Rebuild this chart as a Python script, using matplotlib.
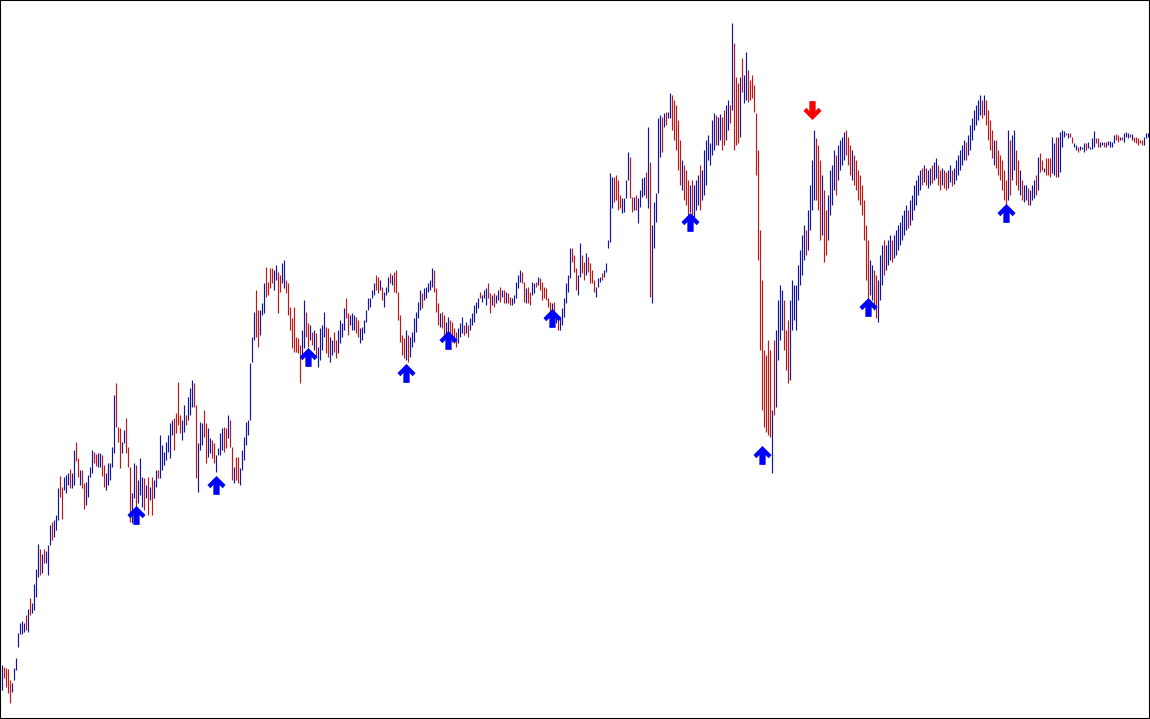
import matplotlib
matplotlib.use("Agg")
import matplotlib.pyplot as plt
import numpy as np
from matplotlib.path import Path

# bar highs / lows (price points), one bar per slot, left to right
highs = [
    55, 53, 52, 51, 40, 37, 52, 62, 87, 97, 99, 97, 105, 111, 122, 117, 136, 151, 176, 171,
    166, 171, 169, 175, 195, 198, 200, 205, 232, 244, 233, 243, 245, 247, 251, 247, 270, 278, 262, 250,
    250, 237, 238, 245, 253, 270, 268, 266, 267, 267,
    265, 255, 247, 257, 257, 273, 325, 337, 293, 292, 278, 290, 302, 273, 253, 227, 257, 255, 240, 262,
    243, 242, 235, 243, 233, 243, 240, 250, 250, 285, 275, 268, 278, 285, 297, 300, 302, 307, 338, 305,
    300, 315, 305, 323, 332,
    340, 337, 315, 277, 298, 297, 310, 297, 292, 282, 280, 277, 265, 272, 287, 292, 293, 292, 305, 300,
    273, 253, 263, 263, 252, 270, 283, 298, 300, 357, 383, 408, 430, 410, 410, 417, 437, 453, 438, 452,
    452, 450, 455, 448, 445, 457, 460, 440, 437, 413,
    402, 413, 383, 382, 375, 390, 420, 408, 397, 395, 388, 390, 387, 373, 392, 395, 408, 393, 392, 383,
    380, 388, 380, 390, 400, 397, 412, 422, 407, 405, 407, 405, 403, 400, 392, 393, 400, 410, 422, 422,
    430, 437, 445, 443, 440,
    433, 428, 433, 443, 447, 445, 448, 450, 428, 405, 385, 382, 390, 385, 383, 388, 402, 408, 418, 430,
    427, 432, 433, 437, 440, 452, 450, 432, 417, 407, 408, 405, 398, 403, 400, 398, 392, 388, 392, 397,
    403, 395, 398, 395, 402, 407, 415, 418, 422, 428,
    425, 430, 432, 437, 427, 425, 427, 425, 430, 433, 430, 430, 428, 427, 423, 422, 425, 438, 445, 450,
    448, 438, 432, 433, 428, 438, 437, 438, 443, 442, 438, 433, 432, 422, 418, 417, 418, 407, 403, 402,
    412, 422, 437, 445, 472, 472, 465,
    452, 445, 477, 465, 458, 467, 463, 457, 450, 440, 433, 442, 443, 447, 450, 457, 480, 547, 543, 543,
    545, 540, 525, 522, 522, 540, 568, 563, 523, 523, 525, 522, 530, 542, 543, 548, 593, 558, 495, 518,
    527, 602, 605, 603, 607, 608, 608, 627,
    625, 620, 615, 600, 580, 560, 555, 550, 540, 535, 540, 535, 540, 545, 555, 550, 570, 580, 585, 577,
    600, 607, 605, 603, 606, 603, 610, 615, 620, 615, 697, 677, 643, 637, 643, 662, 645, 668, 650, 640,
    645, 635, 607, 570, 490, 440, 370, 365, 380, 370, 310, 380, 390, 420, 435, 430, 420, 390, 400, 420,
    440, 435, 435, 455, 470, 485, 495, 490, 510, 535, 560, 590, 582, 575, 560, 545, 530, 510, 525, 550,
    555, 570, 565, 575, 580, 583, 588, 590, 583, 575, 570, 565, 560, 550, 545, 535, 520, 495, 480, 460,
    455, 450, 445, 440, 465, 475, 480, 475, 480, 485, 480, 485, 490, 495, 498, 505, 510, 515, 510, 520,
    525, 535, 540, 545, 550, 552, 555, 552, 550, 552, 555, 558, 562, 555, 550, 552, 550, 548, 550, 555,
    550, 552, 560, 565, 570, 575, 580, 578, 585, 595, 602, 610, 615, 620, 625, 620, 625, 620, 610, 600,
    590, 580, 580, 570, 565, 560, 550, 540, 590, 580, 585, 590, 570, 560, 550, 540, 535, 535, 532, 530,
    535, 540, 545,
    563, 567, 560, 552, 562, 562, 562, 583, 577, 583, 583, 588, 590, 589, 587, 587, 587, 583, 577, 575,
    573, 574, 573, 577, 577, 578, 573, 582, 589, 582, 582, 578, 578, 578, 578, 579, 579, 578, 585, 586,
    585, 583, 583, 587, 588, 587, 586, 586, 583, 583, 582, 580, 580, 583, 587, 587,
]

lows = [
    30, 42, 33, 27, 17, 28, 40, 50, 73, 86, 86, 88, 90, 88, 105, 107, 110, 123, 143, 145,
    147, 157, 157, 145, 175, 180, 183, 190, 200, 223, 201, 230, 227, 235, 232, 232, 235, 259, 243, 235,
    232, 211, 215, 223, 243, 247, 257, 254, 253, 253,
    244, 233, 230, 235, 240, 253, 267, 293, 278, 252, 267, 277, 267, 253, 198, 197, 222, 210, 217, 225,
    213, 210, 222, 205, 220, 205, 222, 233, 242, 242, 250, 255, 260, 268, 262, 285, 270, 287, 295, 287,
    280, 288, 295, 300, 305,
    313, 313, 242, 228, 270, 275, 283, 257, 263, 267, 262, 257, 248, 265, 265, 270, 268, 272, 282, 273,
    240, 237, 240, 237, 235, 250, 260, 275, 285, 300, 358, 380, 383, 373, 385, 405, 407, 423, 425, 432,
    437, 430, 440, 407, 428, 437, 432, 427, 405, 390,
    372, 368, 368, 367, 337, 363, 372, 383, 373, 380, 375, 370, 363, 353, 360, 370, 383, 367, 363, 358,
    365, 368, 362, 367, 377, 383, 390, 402, 385, 395, 390, 390, 387, 383, 377, 380, 387, 398, 410, 413,
    422, 425, 430, 427, 430,
    420, 413, 425, 428, 437, 435, 428, 427, 400, 378, 365, 362, 360, 358, 363, 373, 378, 388, 402, 410,
    412, 420, 422, 428, 430, 433, 428, 408, 395, 393, 392, 385, 383, 387, 383, 378, 377, 373, 377, 383,
    387, 385, 387, 383, 390, 395, 398, 407, 412, 422,
    418, 422, 415, 422, 407, 415, 413, 417, 420, 418, 423, 417, 417, 417, 415, 415, 417, 422, 432, 438,
    437, 418, 417, 417, 415, 425, 427, 433, 435, 430, 420, 422, 420, 413, 403, 403, 398, 397, 390, 390,
    395, 403, 417, 428, 442, 458, 448,
    430, 425, 443, 447, 440, 445, 448, 437, 437, 428, 423, 433, 438, 440, 443, 448, 472, 478, 512, 518,
    520, 510, 512, 507, 508, 522, 540, 522, 508, 510, 510, 497, 513, 523, 525, 522, 512, 423, 417, 472,
    498, 527, 563, 568, 593, 595, 602, 602,
    590, 580, 570, 550, 535, 530, 520, 515, 505, 508, 505, 502, 510, 515, 510, 520, 525, 535, 560, 555,
    565, 570, 575, 575, 580, 570, 575, 580, 590, 597, 610, 570, 575, 577, 583, 628, 617, 620, 618, 620,
    622, 608, 545, 460, 370, 310, 293, 288, 285, 283, 247, 305, 313, 360, 380, 390, 370, 350, 337, 340,
    390, 400, 390, 420, 435, 445, 460, 465, 470, 490, 510, 520, 520, 510, 480, 485, 458, 465, 480, 505,
    515, 530, 525, 540, 550, 555, 560, 565, 555, 545, 540, 535, 530, 520, 515, 505, 480, 440, 420, 425,
    420, 410, 402, 398, 420, 435, 445, 450, 455, 460, 458, 462, 465, 470, 475, 480, 485, 490, 492, 495,
    500, 510, 515, 525, 530, 535, 538, 535, 532, 535, 537, 540, 542, 535, 530, 535, 532, 530, 532, 538,
    534, 536, 540, 545, 550, 555, 560, 560, 565, 570, 580, 590, 595, 600, 605, 602, 605, 595, 580, 570,
    562, 555, 552, 545, 540, 530, 520, 515, 520, 525, 540, 550, 535, 530, 525, 520, 518, 520, 515, 515,
    520, 522, 525,
    530, 548, 550, 548, 545, 545, 543, 547, 545, 543, 543, 548, 573, 583, 585, 582, 583, 577, 573, 570,
    568, 570, 571, 568, 570, 572, 571, 571, 573, 577, 573, 573, 575, 573, 573, 575, 573, 573, 577, 580,
    578, 580, 580, 578, 583, 582, 583, 580, 578, 577, 575, 577, 575, 575, 582, 583,
]

# b = bullish bar (blue), r = bearish bar (red)
direction = (
    "brrrrbbbbb" "bbrbrbbbbr" "brbbbrbbbr" "rbbbrbbrrb" "rrbbbbrrbb"
    "rrbbbbbrrr" "bbrrrbbrbb" "brbrbrbbrb" "bbbbbbrrrr" "bbrbb"
    "brrbbbrrbb" "rrbbbbrrbr" "rbrrbbbbbb" "bbrrbbbrrr" "rbbrrbbrrr"
    "rrrrrbbrrb" "rbrbbbbrrb" "brrbbbbrrb" "bbrrbbbbbb" "bbrrb"
    "rbbbrbrrrr" "rrbrbbbbbb" "rbbbbbrrrb" "rrbbrrrrbb" "brbrbbbbbr"
    "bbbrrbrbbr" "brbrrbbbbb" "rrbrrbbrbr" "rrrrrbrbrb" "bbbbbrr"
    "rbbrrbrrrr" "bbbrbbbbbr" "rrrbbbbrrb" "rbbbbrbrbb" "bbbrbrbb"
    "rrrrrbrrrb" "rbbbrbbbbb" "bbrbbrrbbr" "brrrbrbbrr" "rrrrrrrrrr"
    "brbbbbrrrb" "bbbbbbbrbb" "bbrrrbrrbb" "bbrbbbbrrr" "brrrrrrrrb"
    "brrbbbrbbb" "rbbbbbbbrb" "bbbbbrbrbb" "rbbrrbrrbb" "rbbbbbbrbb"
    "bbbbbrbrrr" "rbrrrrrrbr" "bbrrbrbbrb" "bbr"
    "brrbrrrbbr" "bbbbrbrrbb" "rbbbrbbbbr" "rbbrbbbbbr" "rbrbbbrbrr" "rrrbbb"
)

# signal arrows: bar index and price level
buy_bars = [67, 107, 153, 202, 223, 275, 344, 380, 433, 502]
buy_levels = [205, 235, 363, 347, 380, 402, 498, 265, 413, 507]
sell_bars = [405]
sell_levels = [610]

n = min(len(highs), len(lows), len(direction))
x = np.arange(n)
hi = np.array(highs[:n])
lo = np.array(lows[:n])
up = np.array([c == "b" for c in direction[:n]])

fig = plt.figure(figsize=(11.5, 7.19), dpi=100)
ax = fig.add_axes([0, 0, 1, 1])

ax.vlines(x[up], lo[up], hi[up], color="#15159a", lw=0.85)
ax.vlines(x[~up], lo[~up], hi[~up], color="#bb1a1a", lw=0.85)

# chunky chevron arrow marker
up_verts = [(0, 1), (0.95, 0.05), (0.68, -0.25), (0.3, 0.15), (0.3, -1),
            (-0.3, -1), (-0.3, 0.15), (-0.68, -0.25), (-0.95, 0.05), (0, 1)]
up_arrow = Path(up_verts, closed=True)
down_arrow = Path([(vx, -vy) for vx, vy in up_verts], closed=True)

ax.plot(buy_bars, buy_levels, ls="none", marker=up_arrow, ms=13,
        color="#0000ff", mec="#0000ff", mew=0.5)
ax.plot(sell_bars, sell_levels, ls="none", marker=down_arrow, ms=13,
        color="#ff0000", mec="#ff0000", mew=0.5)

ax.set_xlim(-0.75, 574.25)
ax.set_ylim(1, 720)
ax.set_xticks([])
ax.set_yticks([])
for s in ax.spines.values():
    s.set_color("black")
    s.set_linewidth(1.5)

fig.savefig("out.png", dpi=100)
